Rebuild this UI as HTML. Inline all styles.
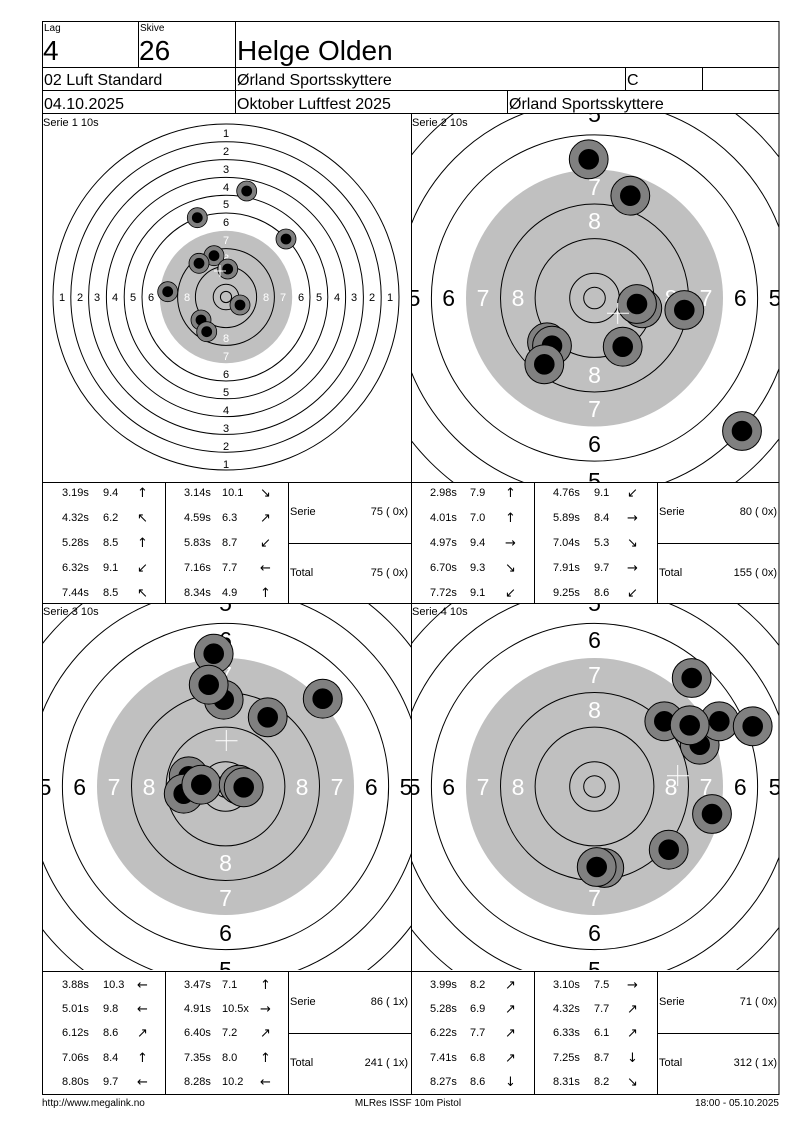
<!DOCTYPE html>
<html><head><meta charset="utf-8"><style>
html,body{margin:0;padding:0;background:#fff;width:800px;height:1130px;overflow:hidden}
svg{display:block}
text{font-family:"Liberation Sans",Arial,sans-serif}
.a{font-family:"DejaVu Sans",sans-serif;font-size:13px}
</style></head><body>
<svg width="800" height="1130" viewBox="0 0 800 1130" xmlns="http://www.w3.org/2000/svg">
<defs>
<clipPath id="p1"><rect x="42" y="114" width="369" height="368"/></clipPath>
<clipPath id="p2"><rect x="411" y="114" width="368" height="368"/></clipPath>
<clipPath id="p3"><rect x="42" y="604" width="369" height="366"/></clipPath>
<clipPath id="p4"><rect x="411" y="604" width="368" height="366"/></clipPath>
</defs>

<g fill="none" stroke="#000" stroke-width="1">
<rect x="42.5" y="21.5" width="736.5" height="1073"/>
<line x1="42" y1="67.5" x2="779" y2="67.5"/>
<line x1="42" y1="90.5" x2="779" y2="90.5"/>
<line x1="42" y1="113.5" x2="779" y2="113.5"/>
<line x1="138.5" y1="21" x2="138.5" y2="67"/>
<line x1="235.5" y1="21" x2="235.5" y2="113"/>
<line x1="625.5" y1="67" x2="625.5" y2="90"/>
<line x1="702.5" y1="67" x2="702.5" y2="90"/>
<line x1="507.5" y1="90" x2="507.5" y2="113"/>
<line x1="411.5" y1="113" x2="411.5" y2="1094"/>
<line x1="42" y1="482.5" x2="779" y2="482.5"/>
<line x1="42" y1="603.5" x2="779" y2="603.5"/>
<line x1="42" y1="971.5" x2="779" y2="971.5"/>
</g>
<text x="44" y="31" font-size="10">Lag</text>
<text x="140" y="31" font-size="10">Skive</text>
<text x="43" y="60" font-size="28">4</text>
<text x="139" y="60" font-size="28">26</text>
<text x="237" y="60" font-size="28">Helge Olden</text>
<text x="44" y="85" font-size="16">02 Luft Standard</text>
<text x="237" y="85" font-size="16">Ørland Sportsskyttere</text>
<text x="627" y="85" font-size="16">C</text>
<text x="44" y="109" font-size="16">04.10.2025</text>
<text x="237" y="109" font-size="16">Oktober Luftfest 2025</text>
<text x="509" y="109" font-size="16">Ørland Sportsskyttere</text>

<g clip-path="url(#p1)">
<g fill="none" stroke="#000">
<circle cx="226" cy="297" r="173"/><circle cx="226" cy="297" r="155.2"/><circle cx="226" cy="297" r="137.4"/>
<circle cx="226" cy="297" r="119.6"/><circle cx="226" cy="297" r="101.8"/><circle cx="226" cy="297" r="84"/>
</g>
<circle cx="226" cy="297" r="66.2" fill="#c0c0c0"/>
<g fill="none" stroke="#000">
<circle cx="226" cy="297" r="48.4"/><circle cx="226" cy="297" r="30.6"/><circle cx="226" cy="297" r="12.8"/><circle cx="226" cy="297" r="5.6"/>
</g>
<g font-size="11" text-anchor="middle" fill="#000">
<text x="226" y="137">1</text><text x="226" y="155">2</text><text x="226" y="173">3</text><text x="226" y="191">4</text><text x="226" y="208">5</text><text x="226" y="226">6</text>
<text x="226" y="468">1</text><text x="226" y="450">2</text><text x="226" y="432">3</text><text x="226" y="414">4</text><text x="226" y="396">5</text><text x="226" y="378">6</text>
<text x="62" y="301">1</text><text x="80" y="301">2</text><text x="97" y="301">3</text><text x="115" y="301">4</text><text x="133" y="301">5</text><text x="151" y="301">6</text>
<text x="390" y="301">1</text><text x="372" y="301">2</text><text x="354" y="301">3</text><text x="337" y="301">4</text><text x="319" y="301">5</text><text x="301" y="301">6</text>
</g>
<g font-size="11" text-anchor="middle" fill="#fff">
<text x="226" y="244">7</text><text x="226" y="262">8</text><text x="226" y="360">7</text><text x="226" y="342">8</text>
<text x="169" y="301">7</text><text x="187" y="301">8</text><text x="283" y="301">7</text><text x="266" y="301">8</text>
</g>
<g stroke="#000" stroke-width="0.8">
<circle cx="246.7" cy="191" r="10" fill="#808080"/><circle cx="246.7" cy="191" r="5"/>
<circle cx="197.3" cy="217.7" r="10" fill="#808080"/><circle cx="197.3" cy="217.7" r="5"/>
<circle cx="286" cy="239" r="10" fill="#808080"/><circle cx="286" cy="239" r="5"/>
<circle cx="214" cy="255.7" r="10" fill="#808080"/><circle cx="214" cy="255.7" r="5"/>
<circle cx="199" cy="263.3" r="10" fill="#808080"/><circle cx="199" cy="263.3" r="5"/>
<circle cx="227.7" cy="269" r="10" fill="#808080"/><circle cx="227.7" cy="269" r="5"/>
<circle cx="167.7" cy="291.7" r="10" fill="#808080"/><circle cx="167.7" cy="291.7" r="5"/>
<circle cx="240" cy="305" r="10" fill="#808080"/><circle cx="240" cy="305" r="5"/>
<circle cx="201" cy="320" r="10" fill="#808080"/><circle cx="201" cy="320" r="5"/>
<circle cx="206.7" cy="331.7" r="10" fill="#808080"/><circle cx="206.7" cy="331.7" r="5"/>
</g>
<path d="M214 271h12M220 265v12" stroke="#fff"/>
</g>
<text x="43" y="126" font-size="11">Serie 1 10s</text>

<g clip-path="url(#p2)">
<g fill="none" stroke="#000">
<circle cx="594.5" cy="298" r="266.8"/><circle cx="594.5" cy="298" r="232.2"/><circle cx="594.5" cy="298" r="197.6"/><circle cx="594.5" cy="298" r="163.1"/>
</g>
<circle cx="594.5" cy="298" r="128.5" fill="#c0c0c0"/>
<g fill="none" stroke="#000">
<circle cx="594.5" cy="298" r="94"/><circle cx="594.5" cy="298" r="59.4"/><circle cx="594.5" cy="298" r="24.8"/><circle cx="594.5" cy="298" r="10.8"/>
</g>
<g font-size="23" text-anchor="middle" fill="#000">
<text x="594.5" y="122">5</text><text x="594.5" y="160">6</text><text x="594.5" y="452">6</text><text x="594.5" y="489">5</text>
<text x="414" y="306">5</text><text x="448.7" y="306">6</text><text x="740.3" y="306">6</text><text x="775" y="306">5</text>
</g>
<g font-size="23" text-anchor="middle" fill="#fff">
<text x="594.5" y="195">7</text><text x="594.5" y="229">8</text><text x="594.5" y="417">7</text><text x="594.5" y="383">8</text>
<text x="483" y="306">7</text><text x="518" y="306">8</text><text x="706" y="306">7</text><text x="671" y="306">8</text>
</g>
<g stroke="#000" stroke-width="1">
<circle cx="588.7" cy="159.3" r="19.4" fill="#808080"/><circle cx="588.7" cy="159.3" r="9.8"/>
<circle cx="630.3" cy="195.7" r="19.4" fill="#808080"/><circle cx="630.3" cy="195.7" r="9.8"/>
<circle cx="642.3" cy="308.3" r="19.4" fill="#808080"/><circle cx="642.3" cy="308.3" r="9.8"/>
<circle cx="637" cy="304" r="19.4" fill="#808080"/><circle cx="637" cy="304" r="9.8"/>
<circle cx="684.3" cy="310" r="19.4" fill="#808080"/><circle cx="684.3" cy="310" r="9.8"/>
<circle cx="622.7" cy="346.7" r="19.4" fill="#808080"/><circle cx="622.7" cy="346.7" r="9.8"/>
<circle cx="547" cy="342.3" r="19.4" fill="#808080"/><circle cx="547" cy="342.3" r="9.8"/>
<circle cx="552" cy="345.7" r="19.4" fill="#808080"/><circle cx="552" cy="345.7" r="9.8"/>
<circle cx="544.3" cy="364.3" r="19.4" fill="#808080"/><circle cx="544.3" cy="364.3" r="9.8"/>
<circle cx="742" cy="431" r="19.4" fill="#808080"/><circle cx="742" cy="431" r="9.8"/>
</g>
<path d="M607 313.3h22M617.7 303v21" stroke="#fff"/>
</g>
<text x="412" y="126" font-size="11">Serie 2 10s</text>

<g clip-path="url(#p3)">
<g fill="none" stroke="#000">
<circle cx="225.5" cy="786.5" r="266.8"/><circle cx="225.5" cy="786.5" r="232.2"/><circle cx="225.5" cy="786.5" r="197.6"/><circle cx="225.5" cy="786.5" r="163.1"/>
</g>
<circle cx="225.5" cy="786.5" r="128.5" fill="#c0c0c0"/>
<g fill="none" stroke="#000">
<circle cx="225.5" cy="786.5" r="94"/><circle cx="225.5" cy="786.5" r="59.4"/><circle cx="225.5" cy="786.5" r="24.8"/><circle cx="225.5" cy="786.5" r="10.8"/>
</g>
<g font-size="23" text-anchor="middle" fill="#000">
<text x="225.5" y="611">5</text><text x="225.5" y="648">6</text><text x="225.5" y="941">6</text><text x="225.5" y="978">5</text>
<text x="45" y="795">5</text><text x="79.7" y="795">6</text><text x="371.3" y="795">6</text><text x="406" y="795">5</text>
</g>
<g font-size="23" text-anchor="middle" fill="#fff">
<text x="225.5" y="683">7</text><text x="225.5" y="718">8</text><text x="225.5" y="906">7</text><text x="225.5" y="871">8</text>
<text x="114" y="795">7</text><text x="149" y="795">8</text><text x="337" y="795">7</text><text x="302" y="795">8</text>
</g>
<g stroke="#000" stroke-width="1">
<circle cx="213.7" cy="653.7" r="19.4" fill="#808080"/><circle cx="213.7" cy="653.7" r="9.8"/>
<circle cx="223.7" cy="699.7" r="19.4" fill="#808080"/><circle cx="223.7" cy="699.7" r="9.8"/>
<circle cx="208.7" cy="684.7" r="19.4" fill="#808080"/><circle cx="208.7" cy="684.7" r="9.8"/>
<circle cx="267.7" cy="717.3" r="19.4" fill="#808080"/><circle cx="267.7" cy="717.3" r="9.8"/>
<circle cx="322.7" cy="698.7" r="19.4" fill="#808080"/><circle cx="322.7" cy="698.7" r="9.8"/>
<circle cx="188.7" cy="776.3" r="19.4" fill="#808080"/><circle cx="188.7" cy="776.3" r="9.8"/>
<circle cx="183.7" cy="793.7" r="19.4" fill="#808080"/><circle cx="183.7" cy="793.7" r="9.8"/>
<circle cx="201.3" cy="784.7" r="19.4" fill="#808080"/><circle cx="201.3" cy="784.7" r="9.8"/>
<circle cx="238.7" cy="784.7" r="19.4" fill="#808080"/><circle cx="238.7" cy="784.7" r="9.8"/>
<circle cx="243.7" cy="787.3" r="19.4" fill="#808080"/><circle cx="243.7" cy="787.3" r="9.8"/>
</g>
<path d="M215.5 740.7h22M226.3 730v21" stroke="#fff"/>
</g>
<text x="43" y="615" font-size="11">Serie 3 10s</text>

<g clip-path="url(#p4)">
<g fill="none" stroke="#000">
<circle cx="594.5" cy="786.5" r="266.8"/><circle cx="594.5" cy="786.5" r="232.2"/><circle cx="594.5" cy="786.5" r="197.6"/><circle cx="594.5" cy="786.5" r="163.1"/>
</g>
<circle cx="594.5" cy="786.5" r="128.5" fill="#c0c0c0"/>
<g fill="none" stroke="#000">
<circle cx="594.5" cy="786.5" r="94"/><circle cx="594.5" cy="786.5" r="59.4"/><circle cx="594.5" cy="786.5" r="24.8"/><circle cx="594.5" cy="786.5" r="10.8"/>
</g>
<g font-size="23" text-anchor="middle" fill="#000">
<text x="594.5" y="611">5</text><text x="594.5" y="648">6</text><text x="594.5" y="941">6</text><text x="594.5" y="978">5</text>
<text x="414" y="795">5</text><text x="448.7" y="795">6</text><text x="740.3" y="795">6</text><text x="775" y="795">5</text>
</g>
<g font-size="23" text-anchor="middle" fill="#fff">
<text x="594.5" y="683">7</text><text x="594.5" y="718">8</text><text x="594.5" y="906">7</text><text x="594.5" y="871">8</text>
<text x="483" y="795">7</text><text x="518" y="795">8</text><text x="706" y="795">7</text><text x="671" y="795">8</text>
</g>
<g stroke="#000" stroke-width="1">
<circle cx="691.7" cy="678" r="19.4" fill="#808080"/><circle cx="691.7" cy="678" r="9.8"/>
<circle cx="664.3" cy="721.3" r="19.4" fill="#808080"/><circle cx="664.3" cy="721.3" r="9.8"/>
<circle cx="699.7" cy="744.7" r="19.4" fill="#808080"/><circle cx="699.7" cy="744.7" r="9.8"/>
<circle cx="719.3" cy="721.3" r="19.4" fill="#808080"/><circle cx="719.3" cy="721.3" r="9.8"/>
<circle cx="689.7" cy="725.3" r="19.4" fill="#808080"/><circle cx="689.7" cy="725.3" r="9.8"/>
<circle cx="752.7" cy="726.3" r="19.4" fill="#808080"/><circle cx="752.7" cy="726.3" r="9.8"/>
<circle cx="712" cy="814" r="19.4" fill="#808080"/><circle cx="712" cy="814" r="9.8"/>
<circle cx="668.7" cy="849.7" r="19.4" fill="#808080"/><circle cx="668.7" cy="849.7" r="9.8"/>
<circle cx="604.3" cy="868" r="19.4" fill="#808080"/><circle cx="604.3" cy="868" r="9.8"/>
<circle cx="596.7" cy="867" r="19.4" fill="#808080"/><circle cx="596.7" cy="867" r="9.8"/>
</g>
<path d="M667 775.7h22M677.7 765v21" stroke="#fff"/>
</g>
<text x="412" y="615" font-size="11">Serie 4 10s</text>

<g stroke="#000" fill="none">
<line x1="165.5" y1="482" x2="165.5" y2="603"/><line x1="288.5" y1="482" x2="288.5" y2="603"/><line x1="288" y1="543.5" x2="411" y2="543.5"/>
<line x1="534.5" y1="482" x2="534.5" y2="603"/><line x1="657.5" y1="482" x2="657.5" y2="603"/><line x1="657" y1="543.5" x2="779" y2="543.5"/>
<line x1="165.5" y1="971" x2="165.5" y2="1094"/><line x1="288.5" y1="971" x2="288.5" y2="1094"/><line x1="288" y1="1033.5" x2="411" y2="1033.5"/>
<line x1="534.5" y1="971" x2="534.5" y2="1094"/><line x1="657.5" y1="971" x2="657.5" y2="1094"/><line x1="657" y1="1033.5" x2="779" y2="1033.5"/>
</g>

<g font-size="11">
<text x="62" y="496">3.19s</text><text x="103" y="496">9.4</text><text class="a" x="137" y="497">↑</text>
<text x="62" y="521">4.32s</text><text x="103" y="521">6.2</text><text class="a" x="137" y="522">↖</text>
<text x="62" y="546">5.28s</text><text x="103" y="546">8.5</text><text class="a" x="137" y="547">↑</text>
<text x="62" y="571">6.32s</text><text x="103" y="571">9.1</text><text class="a" x="137" y="572">↙</text>
<text x="62" y="596">7.44s</text><text x="103" y="596">8.5</text><text class="a" x="137" y="597">↖</text>
<text x="184" y="496">3.14s</text><text x="222" y="496">10.1</text><text class="a" x="260" y="497">↘</text>
<text x="184" y="521">4.59s</text><text x="222" y="521">6.3</text><text class="a" x="260" y="522">↗</text>
<text x="184" y="546">5.83s</text><text x="222" y="546">8.7</text><text class="a" x="260" y="547">↙</text>
<text x="184" y="571">7.16s</text><text x="222" y="571">7.7</text><text class="a" x="260" y="572">←</text>
<text x="184" y="596">8.34s</text><text x="222" y="596">4.9</text><text class="a" x="260" y="597">↑</text>
<text x="290" y="515">Serie</text><text x="408" y="515" text-anchor="end">75 ( 0x)</text>
<text x="290" y="576">Total</text><text x="408" y="576" text-anchor="end">75 ( 0x)</text>
<text x="430" y="496">2.98s</text><text x="470" y="496">7.9</text><text class="a" x="505" y="497">↑</text>
<text x="430" y="521">4.01s</text><text x="470" y="521">7.0</text><text class="a" x="505" y="522">↑</text>
<text x="430" y="546">4.97s</text><text x="470" y="546">9.4</text><text class="a" x="505" y="547">→</text>
<text x="430" y="571">6.70s</text><text x="470" y="571">9.3</text><text class="a" x="505" y="572">↘</text>
<text x="430" y="596">7.72s</text><text x="470" y="596">9.1</text><text class="a" x="505" y="597">↙</text>
<text x="553" y="496">4.76s</text><text x="594" y="496">9.1</text><text class="a" x="627" y="497">↙</text>
<text x="553" y="521">5.89s</text><text x="594" y="521">8.4</text><text class="a" x="627" y="522">→</text>
<text x="553" y="546">7.04s</text><text x="594" y="546">5.3</text><text class="a" x="627" y="547">↘</text>
<text x="553" y="571">7.91s</text><text x="594" y="571">9.7</text><text class="a" x="627" y="572">→</text>
<text x="553" y="596">9.25s</text><text x="594" y="596">8.6</text><text class="a" x="627" y="597">↙</text>
<text x="659" y="515">Serie</text><text x="777" y="515" text-anchor="end">80 ( 0x)</text>
<text x="659" y="576">Total</text><text x="777" y="576" text-anchor="end">155 ( 0x)</text>
<text x="62" y="988">3.88s</text><text x="103" y="988">10.3</text><text class="a" x="137" y="989">←</text>
<text x="62" y="1012">5.01s</text><text x="103" y="1012">9.8</text><text class="a" x="137" y="1013">←</text>
<text x="62" y="1036">6.12s</text><text x="103" y="1036">8.6</text><text class="a" x="137" y="1037">↗</text>
<text x="62" y="1061">7.06s</text><text x="103" y="1061">8.4</text><text class="a" x="137" y="1062">↑</text>
<text x="62" y="1085">8.80s</text><text x="103" y="1085">9.7</text><text class="a" x="137" y="1086">←</text>
<text x="184" y="988">3.47s</text><text x="222" y="988">7.1</text><text class="a" x="260" y="989">↑</text>
<text x="184" y="1012">4.91s</text><text x="222" y="1012">10.5x</text><text class="a" x="260" y="1013">→</text>
<text x="184" y="1036">6.40s</text><text x="222" y="1036">7.2</text><text class="a" x="260" y="1037">↗</text>
<text x="184" y="1061">7.35s</text><text x="222" y="1061">8.0</text><text class="a" x="260" y="1062">↑</text>
<text x="184" y="1085">8.28s</text><text x="222" y="1085">10.2</text><text class="a" x="260" y="1086">←</text>
<text x="290" y="1005">Serie</text><text x="408" y="1005" text-anchor="end">86 ( 1x)</text>
<text x="290" y="1066">Total</text><text x="408" y="1066" text-anchor="end">241 ( 1x)</text>
<text x="430" y="988">3.99s</text><text x="470" y="988">8.2</text><text class="a" x="505" y="989">↗</text>
<text x="430" y="1012">5.28s</text><text x="470" y="1012">6.9</text><text class="a" x="505" y="1013">↗</text>
<text x="430" y="1036">6.22s</text><text x="470" y="1036">7.7</text><text class="a" x="505" y="1037">↗</text>
<text x="430" y="1061">7.41s</text><text x="470" y="1061">6.8</text><text class="a" x="505" y="1062">↗</text>
<text x="430" y="1085">8.27s</text><text x="470" y="1085">8.6</text><text class="a" x="505" y="1086">↓</text>
<text x="553" y="988">3.10s</text><text x="594" y="988">7.5</text><text class="a" x="627" y="989">→</text>
<text x="553" y="1012">4.32s</text><text x="594" y="1012">7.7</text><text class="a" x="627" y="1013">↗</text>
<text x="553" y="1036">6.33s</text><text x="594" y="1036">6.1</text><text class="a" x="627" y="1037">↗</text>
<text x="553" y="1061">7.25s</text><text x="594" y="1061">8.7</text><text class="a" x="627" y="1062">↓</text>
<text x="553" y="1085">8.31s</text><text x="594" y="1085">8.2</text><text class="a" x="627" y="1086">↘</text>
<text x="659" y="1005">Serie</text><text x="777" y="1005" text-anchor="end">71 ( 0x)</text>
<text x="659" y="1066">Total</text><text x="777" y="1066" text-anchor="end">312 ( 1x)</text>
</g>

<g font-size="10">
<text x="42" y="1106">http://www.megalink.no</text>
<text x="408" y="1106" text-anchor="middle">MLRes ISSF 10m Pistol</text>
<text x="779" y="1106" text-anchor="end">18:00 - 05.10.2025</text>
</g>
</svg>
</body></html>
